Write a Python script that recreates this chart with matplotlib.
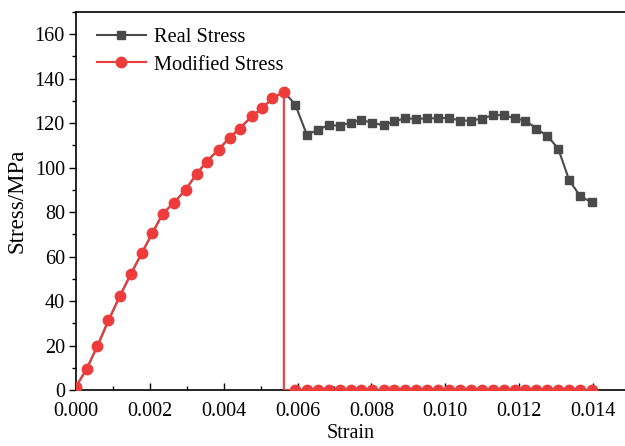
import numpy as np
import matplotlib
matplotlib.use("Agg")
import matplotlib.pyplot as plt
from matplotlib.ticker import MultipleLocator

plt.rcParams['font.family'] = ['Liberation Serif', 'DejaVu Serif']

# strain values
strain = [0.00000, 0.00029, 0.00058, 0.00088, 0.00119, 0.00149, 0.00178, 0.00207,
          0.00235, 0.00265, 0.00297, 0.00327, 0.00354, 0.00386, 0.00416, 0.00443,
          0.00476, 0.00503, 0.00532, 0.00563,
          0.00594, 0.00625, 0.00655, 0.00685, 0.00714, 0.00744, 0.00773, 0.00803,
          0.00833, 0.00862, 0.00892, 0.00921, 0.00951, 0.00981, 0.01010, 0.01039,
          0.01069, 0.01099, 0.01129, 0.01158, 0.01188, 0.01217, 0.01247, 0.01277,
          0.01306, 0.01336, 0.01366, 0.01397]

real_stress = [1.5, 9.5, 19.8, 31.3, 42.3, 52.3, 61.5, 70.6,
               79.3, 84.2, 90.1, 97.3, 102.7, 108.1, 113.5, 117.6,
               123.0, 126.6, 131.1, 134.2,
               128.3, 114.9, 116.9, 119.3, 118.7, 120.3, 121.5, 120.1,
               119.1, 120.8, 122.2, 121.9, 122.2, 122.2, 122.4, 121.2,
               121.1, 122.1, 123.5, 123.7, 122.2, 121.2, 117.6, 114.2,
               108.6, 94.3, 87.1, 84.4]

# modified stress: same as real up to the peak, then zero
peak = 19
mod_x = strain[:peak + 1] + [strain[peak]] + strain[peak + 1:]
mod_y = real_stress[:peak + 1] + [0.0] + [0.0] * (len(strain) - peak - 1)
mod_marks = [i for i in range(len(mod_x)) if i != peak + 1]

grey = '#4a4a4a'
red = '#ee3b3b'

fig = plt.figure(figsize=(6.25, 4.46), dpi=100)
ax = fig.add_axes([0.1216, 0.1256, 0.8784, 0.8475])

# the rising part of the grey curve sits under the red one
ax.plot(strain, real_stress, color=grey, lw=1.5, marker='s', ms=6.3,
        markevery=list(range(peak + 1, len(strain))),
        label='Real Stress', zorder=2)
ax.plot(mod_x, mod_y, color=red, lw=1.5, marker='o', ms=7.5,
        markevery=mod_marks, label='Modified Stress', zorder=3)

ax.set_xlim(0, 0.01487)
ax.set_ylim(0, 170)
ax.xaxis.set_major_locator(MultipleLocator(0.002))
ax.xaxis.set_minor_locator(MultipleLocator(0.001))
ax.yaxis.set_major_locator(MultipleLocator(20))
ax.yaxis.set_minor_locator(MultipleLocator(10))
ax.xaxis.set_major_formatter(plt.FormatStrFormatter('%.3f'))

ax.tick_params(axis='x', which='both', direction='in', labelsize=14.5, pad=9)
ax.tick_params(axis='y', which='both', direction='out', labelsize=14.5, pad=3)
ax.tick_params(which='major', length=5, width=1)
ax.tick_params(which='minor', length=3, width=1)
ax.tick_params(top=False, right=False)

ax.spines['right'].set_visible(False)
for s in ['left', 'bottom', 'top']:
    ax.spines[s].set_linewidth(1.2)

ax.set_xlabel('Strain', fontsize=14.5, labelpad=2)
ax.set_ylabel('Stress/MPa', fontsize=16.5, labelpad=5)

leg = ax.legend(loc='upper left', bbox_to_anchor=(0.012, 0.995), frameon=False,
                fontsize=14.7, handlelength=2.4, borderaxespad=0.3,
                labelspacing=0.38, handletextpad=0.4)

fig.savefig('out.png', dpi=100)
